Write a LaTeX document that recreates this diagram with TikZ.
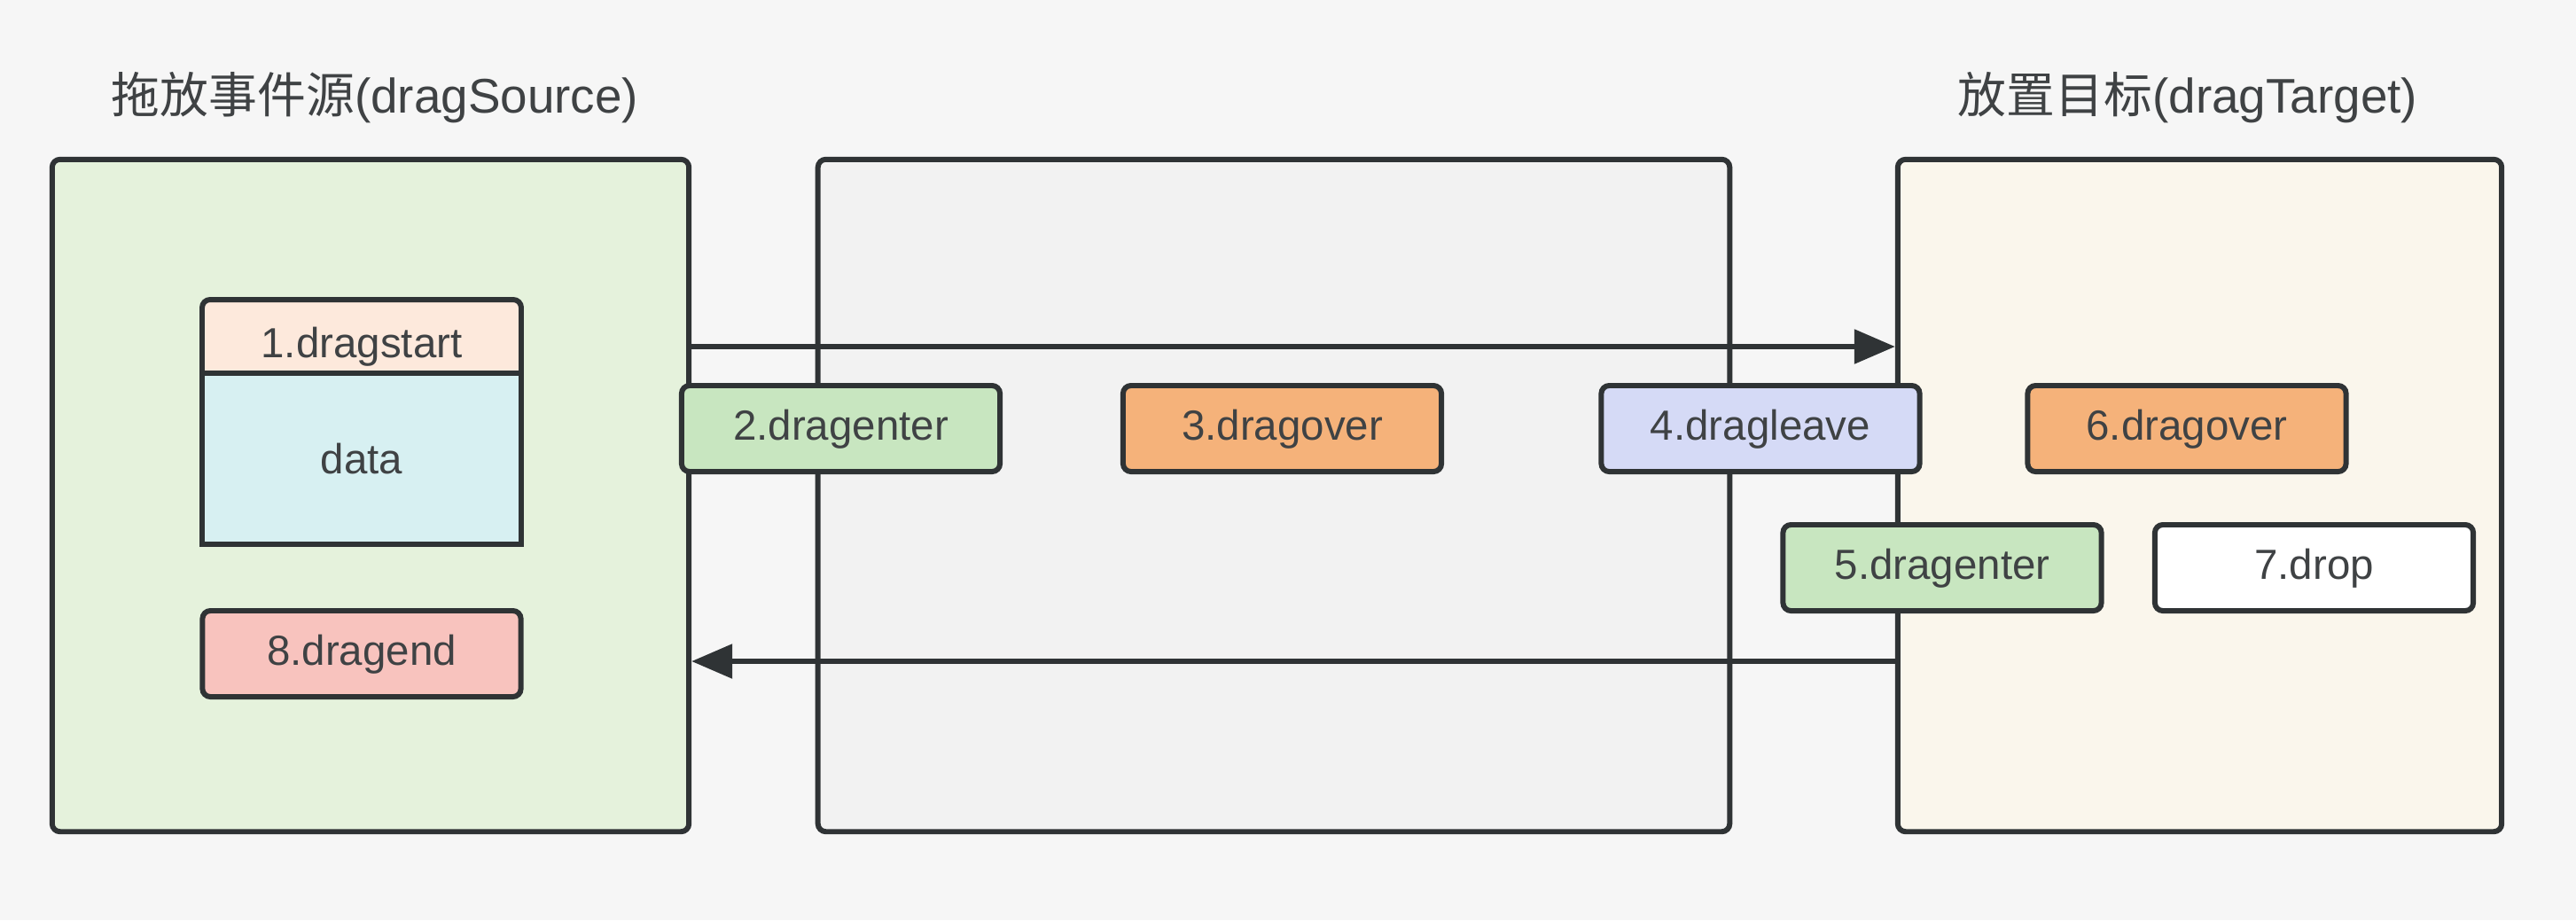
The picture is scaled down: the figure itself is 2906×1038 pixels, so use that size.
\documentclass[tikz,border=0pt]{standalone}
\usepackage{fontspec}
\setmainfont{Liberation Sans}
\newfontfamily\cjk{Noto Sans CJK SC}
\usetikzlibrary{arrows.meta}
\definecolor{bgc}{HTML}{F6F6F6}
\definecolor{srcfill}{HTML}{E5F2DC}
\definecolor{midfill}{HTML}{F2F2F2}
\definecolor{tgtfill}{HTML}{FAF6EC}
\definecolor{peach}{HTML}{FDE9DC}
\definecolor{cyanc}{HTML}{D7F0F2}
\definecolor{pinkc}{HTML}{F8C3BE}
\definecolor{greenc}{HTML}{C8E6C0}
\definecolor{orangec}{HTML}{F5B27A}
\definecolor{lavc}{HTML}{D5DAF6}
\definecolor{strokec}{HTML}{2F3335}
\definecolor{textc}{HTML}{3F4244}
\begin{document}
\begin{tikzpicture}[x=0.01cm,y=-0.01cm,
  outline/.style={draw=strokec,line width=1.7pt},
  lbltext/.style={text=textc,font=\fontsize{13.5pt}{16pt}\selectfont,text height=0.72em,text depth=0pt},
  bigbox/.style={outline,rounded corners=0.09cm,inner sep=0pt,minimum height=7.58cm},
  evbox/.style={outline,lbltext,rounded corners=0.09cm,inner sep=0pt,minimum width=3.59cm,minimum height=0.97cm},
  title/.style={text=textc,font=\fontsize{15.6pt}{19pt}\selectfont,inner sep=0pt},
  arr/.style={draw=strokec,line width=1.6pt,-{Triangle[length=0.46cm,width=0.38cm]}}
]
\useasboundingbox (0,0) rectangle (2906,1038);
\fill[bgc] (0,0) rectangle (2906,1038);

% titles
\node[title] (srctitle) at (423,110) {{\cjk 拖放事件源}(dragSource)};
\node[title] (tgttitle) at (2468,110) {{\cjk 放置目标}(dragTarget)};

% big containers
\node[bigbox,fill=srcfill,minimum width=7.18cm] (src) at (418,559) {};
\node[bigbox,fill=midfill,minimum width=10.28cm] (mid) at (1437,559) {};
\node[bigbox,fill=tgtfill,minimum width=6.81cm] (tgt) at (2481.5,559) {};

% dragstart + data composite
\fill[peach,rounded corners=0.09cm] (228,421) -- (228,338) -- (588,338) -- (588,421) -- cycle;
\fill[peach] (228,390) rectangle (588,421);
\node[outline,fill=cyanc,inner sep=0pt,minimum width=3.6cm,minimum height=1.93cm,
      text=textc,font=\fontsize{13.5pt}{16pt}\selectfont] (data) at (408,517.5) {data};
\draw[outline,line cap=rect,rounded corners=0.09cm] (228,421) -- (228,338) -- (588,338) -- (588,421);
\node[lbltext,inner sep=0pt] (start) at (408,391) {1.dragstart};

\node[evbox,fill=pinkc] (dragend) at (408,737.5) {8.dragend};

% arrows
\coordinate (ytop) at (0,391);
\coordinate (ybot) at (0,746);
\draw[arr] (src.east |- ytop) -- (tgt.west |- ytop);
\draw[arr] (tgt.west |- ybot) -- (src.east |- ybot);

% events
\node[evbox,fill=greenc] (enter1) at (948.5,483.5) {2.dragenter};
\node[evbox,fill=orangec] (over1) at (1446.5,483.5) {3.dragover};
\node[evbox,fill=lavc] (leave) at (1986,483.5) {4.dragleave};
\node[evbox,fill=orangec] (over2) at (2467,483.5) {6.dragover};
\node[evbox,fill=greenc] (enter2) at (2191,640.5) {5.dragenter};
\node[evbox,fill=white] (drop) at (2610.5,640.5) {7.drop};
\end{tikzpicture}
\end{document}
